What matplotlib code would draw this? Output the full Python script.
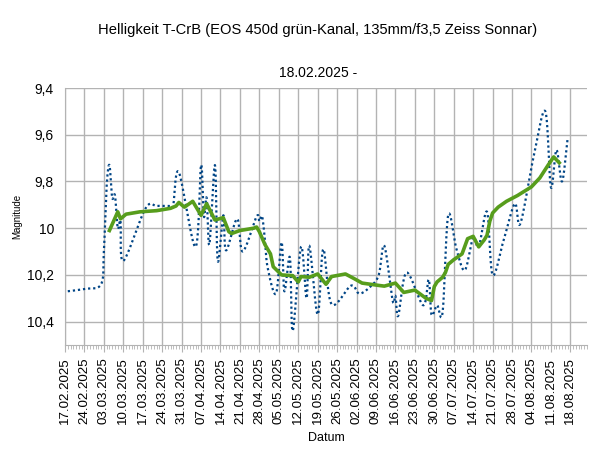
import numpy as np
import pandas as pd
import matplotlib
matplotlib.use("Agg")
import matplotlib.pyplot as plt
import matplotlib.dates as mdates
from matplotlib.ticker import FixedLocator, FuncFormatter

plt.rcParams['font.family'] = ['Liberation Sans', 'DejaVu Sans']

YEAR = 2025
title = "Helligkeit T-CrB (EOS 450d grün-Kanal, 135mm/f3,5 Zeiss Sonnar)"
subtitle = "18.02.2025 -"

# Raw measurements (blue dotted, smoothed)
blue_dates = ["18.02", "24.02", "02.03", "03.03", "04.03", "05.03", "06.03", "07.03", "08.03", "09.03",
              "10.03", "18.03", "22.03", "27.03", "28.03", "30.03", "05.04", "07.04", "08.04", "09.04",
              "10.04", "12.04", "13.04", "15.04", "16.04", "20.04", "22.04", "27.04", "28.04", "29.04",
              "30.04", "01.05", "04.05", "06.05", "07.05", "09.05", "10.05", "13.05", "15.05", "16.05",
              "19.05", "21.05", "24.05", "31.05", "03.06", "07.06", "10.06", "12.06", "15.06", "16.06",
              "17.06", "20.06", "26.06", "28.06", "29.06", "01.07", "03.07", "05.07", "08.07", "11.07",
              "14.07", "16.07", "19.07", "21.07", "25.07", "29.07", "31.07", "05.08", "09.08", "11.08",
              "13.08", "15.08", "17.08"]
blue_mag = [10.27, 10.26, 10.24, 10.10, 9.82, 9.73, 9.87, 9.86, 10.00, 9.97,
            10.14, 9.915, 9.905, 9.905, 9.90, 9.76, 10.08, 9.73, 9.95, 9.87,
            10.07, 9.73, 10.14, 9.945, 10.095, 9.96, 10.10, 9.95, 9.97, 9.95,
            10.05, 10.17, 10.28, 10.06, 10.27, 10.125, 10.44, 10.08, 10.30, 10.075,
            10.37, 10.09, 10.325, 10.246, 10.28, 10.25, 10.20, 10.075, 10.31, 10.29,
            10.375, 10.19, 10.33, 10.22, 10.37, 10.33, 10.36, 9.945, 10.09, 10.18,
            10.04, 10.08, 9.93, 10.20, 10.05, 9.895, 9.98, 9.68, 9.50, 9.825,
            9.665, 9.80, 9.62]

# Moving average (green)
green_dates = ["05.03", "08.03", "09.03", "11.03", "16.03", "22.03", "27.03", "29.03", "30.03", "01.04",
               "04.04", "07.04", "09.04", "12.04", "15.04", "17.04", "18.04", "21.04", "26.04", "27.04",
               "28.04", "30.04", "02.05", "03.05", "06.05", "10.05", "12.05", "13.05", "16.05", "19.05",
               "22.05", "24.05", "29.05", "01.06", "04.06", "10.06", "12.06", "16.06", "19.06", "23.06",
               "27.06", "29.06", "30.06", "01.07", "03.07", "04.07", "05.07", "07.07", "10.07", "12.07",
               "14.07", "16.07", "18.07", "19.07", "20.07", "21.07", "23.07", "26.07", "30.07", "04.08",
               "07.08", "10.08", "12.08", "14.08"]
green_mag = [10.01, 9.93, 9.96, 9.94, 9.93, 9.925, 9.915, 9.905, 9.89, 9.91,
             9.885, 9.945, 9.895, 9.965, 9.955, 10.015, 10.023, 10.01, 10.0, 9.995,
             10.015, 10.07, 10.11, 10.165, 10.20, 10.203, 10.23, 10.207, 10.21, 10.196,
             10.24, 10.207, 10.196, 10.215, 10.235, 10.245, 10.248, 10.235, 10.275, 10.265,
             10.30, 10.31, 10.25, 10.23, 10.21, 10.19, 10.155, 10.135, 10.11, 10.045,
             10.035, 10.08, 10.05, 10.03, 9.97, 9.935, 9.91, 9.885, 9.86, 9.823,
             9.785, 9.73, 9.695, 9.72]

y_ticks = [9.4, 9.6, 9.8, 10.0, 10.2, 10.4]
x_start, x_end = "17.02", "24.08"


def to_dt(lst):
    return pd.to_datetime([f"{d}.{YEAR}" for d in lst], format="%d.%m.%Y")


def catmull_rom(x, y, n=20):
    x = np.asarray(x, float)
    y = np.asarray(y, float)
    P = np.column_stack([x, y])
    P = np.vstack([2 * P[0] - P[1], P, 2 * P[-1] - P[-2]])
    out = []
    t = np.linspace(0, 1, n, endpoint=False)
    for i in range(1, len(P) - 2):
        p0, p1, p2, p3 = P[i - 1], P[i], P[i + 1], P[i + 2]
        t2, t3 = t * t, t * t * t
        seg = 0.5 * ((2 * p1)[None, :] + (-p0 + p2)[None, :] * t[:, None]
                     + (2 * p0 - 5 * p1 + 4 * p2 - p3)[None, :] * t2[:, None]
                     + (-p0 + 3 * p1 - 3 * p2 + p3)[None, :] * t3[:, None])
        out.append(seg)
    out.append(P[-2][None, :])
    out = np.vstack(out)
    return out[:, 0], out[:, 1]


fig = plt.figure(figsize=(6.13, 4.55), dpi=100)
ax = fig.add_axes([65 / 613, 1 - 345 / 455, (587 - 65) / 613, (345 - 88) / 455])

bx = mdates.date2num(to_dt(blue_dates))
sx, sy = catmull_rom(bx, blue_mag)
ax.plot(sx, sy, color="#004586", lw=1.6, linestyle=(0, (1, 1.3)), zorder=3)

gx = mdates.date2num(to_dt(green_dates))
ax.plot(gx, green_mag, color="#579d1c", lw=2.6, solid_joinstyle="round", zorder=4)

ax.set_ylim(10.5, 9.4)
ax.set_xlim(mdates.date2num(to_dt([x_start]))[0], mdates.date2num(to_dt([x_end]))[0])

ax.yaxis.set_major_locator(FixedLocator(y_ticks))
ax.yaxis.set_major_formatter(FuncFormatter(
    lambda v, p: (f"{v:.1f}".replace(".", ",")).replace(",0", "")))
ax.xaxis.set_major_locator(mdates.WeekdayLocator(byweekday=mdates.MO, interval=1))
ax.xaxis.set_minor_locator(mdates.DayLocator())
ax.xaxis.set_major_formatter(mdates.DateFormatter("%d.%m.%Y"))

ax.grid(True, which="major", color="#b3b3b3", lw=1)
ax.set_axisbelow(True)
for s in ["top", "right"]:
    ax.spines[s].set_visible(False)
for s in ["left", "bottom"]:
    ax.spines[s].set_color("#b3b3b3")
ax.tick_params(axis="x", which="major", length=5, color="#b3b3b3", labelsize=9.6, pad=4)
ax.tick_params(axis="x", which="minor", length=3, color="#b3b3b3")
ax.tick_params(axis="y", length=0, labelsize=10, pad=8)
plt.setp(ax.get_xticklabels(), rotation=90)

ax.set_xlabel("Datum", fontsize=9)
ax.xaxis.set_label_coords(0.5, (345 - 438) / 257, transform=ax.transAxes)
ax.xaxis.label.set_va("center")
ax.set_ylabel("Magnitude", fontsize=7)
ax.yaxis.set_label_coords((17 - 65) / 522, 0.5, transform=ax.transAxes)
ax.yaxis.label.set_va("center")

fig.text(318 / 613, 1 - 30 / 455, title, ha="center", va="center", fontsize=10.6)
fig.text(318 / 613, 1 - 73 / 455, subtitle, ha="center", va="center", fontsize=10)

fig.savefig("out.png", dpi=100)
